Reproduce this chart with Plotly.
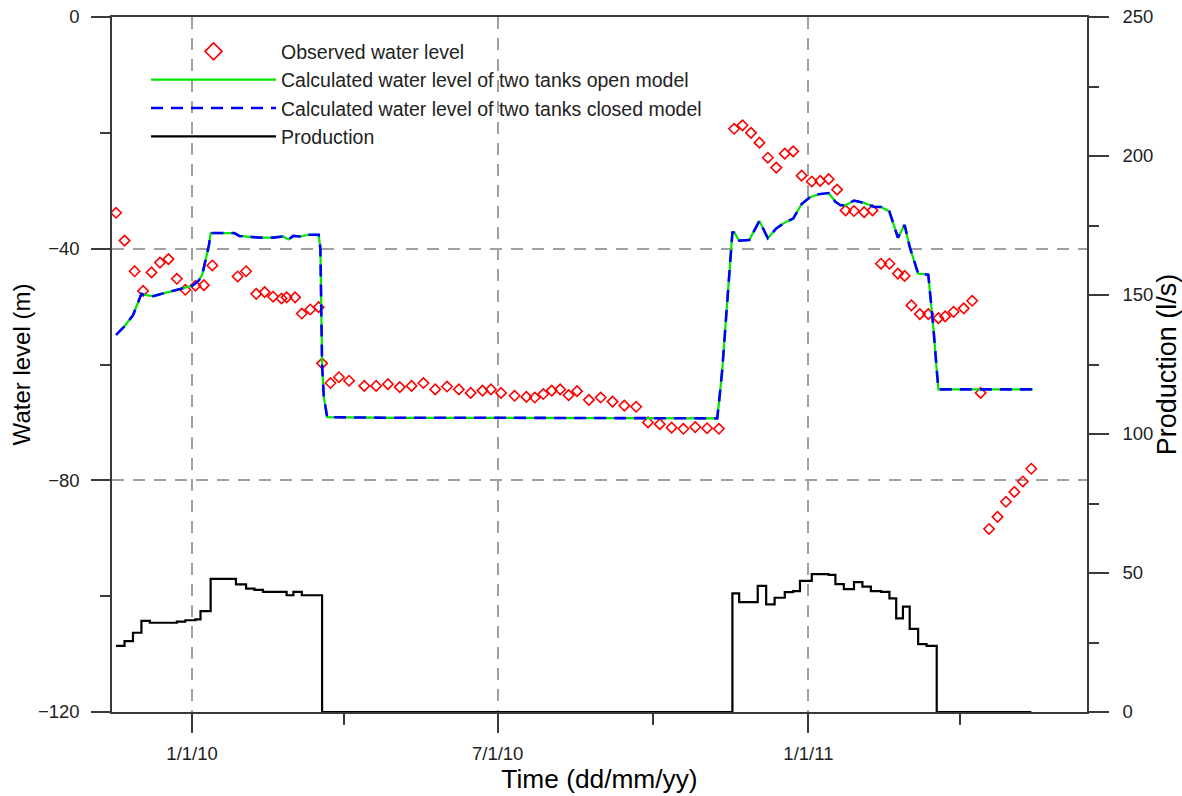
import plotly.graph_objects as go

# ---------------- data ----------------
obs_dates = [
    "2009-11-17", "2009-11-22", "2009-11-28", "2009-12-03", "2009-12-08", "2009-12-13",
    "2009-12-18", "2009-12-23", "2009-12-28", "2010-01-03", "2010-01-08", "2010-01-13",
    "2010-01-28", "2010-02-02", "2010-02-08", "2010-02-13", "2010-02-18", "2010-02-23",
    "2010-02-26", "2010-03-03", "2010-03-07", "2010-03-12", "2010-03-17", "2010-03-19",
    "2010-03-24", "2010-03-29", "2010-04-04", "2010-04-13", "2010-04-20", "2010-04-27",
    "2010-05-04", "2010-05-11", "2010-05-18", "2010-05-25", "2010-06-01", "2010-06-08",
    "2010-06-15", "2010-06-22", "2010-06-27", "2010-07-03", "2010-07-11", "2010-07-18",
    "2010-07-23", "2010-07-28", "2010-08-02", "2010-08-07", "2010-08-12", "2010-08-17",
    "2010-08-24", "2010-08-31", "2010-09-07", "2010-09-14", "2010-09-21", "2010-09-28",
    "2010-10-05", "2010-10-12", "2010-10-19", "2010-10-26", "2010-11-02", "2010-11-09",
    "2010-11-18", "2010-11-23", "2010-11-28", "2010-12-03", "2010-12-08", "2010-12-13",
    "2010-12-18", "2010-12-23", "2010-12-28", "2011-01-03", "2011-01-08", "2011-01-13",
    "2011-01-18", "2011-01-23", "2011-01-28", "2011-02-03", "2011-02-08", "2011-02-13",
    "2011-02-18", "2011-02-23", "2011-02-27", "2011-03-03", "2011-03-08", "2011-03-13",
    "2011-03-19", "2011-03-23", "2011-03-28", "2011-04-03", "2011-04-08", "2011-04-13",
    "2011-04-18", "2011-04-23", "2011-04-28", "2011-05-03", "2011-05-08", "2011-05-13",
]
obs_level = [
    -33.8, -38.6, -43.9, -47.3, -44.1, -42.4,
    -41.8, -45.2, -47.1, -46.4, -46.3, -42.9,
    -44.8, -43.9, -47.8, -47.5, -48.3, -48.6,
    -48.4, -48.4, -51.2, -50.5, -50.1, -59.8,
    -63.2, -62.2, -62.8, -63.7, -63.7, -63.4,
    -63.9, -63.7, -63.2, -64.3, -63.8, -64.3,
    -64.9, -64.5, -64.3, -64.9, -65.4, -65.6,
    -65.7, -65.1, -64.5, -64.3, -65.3, -64.6,
    -66.1, -65.7, -66.4, -67.1, -67.3, -70.0,
    -70.3, -70.9, -71.1, -70.8, -71.0, -71.1,
    -19.3, -18.7, -20.0, -21.7, -24.3, -26.0,
    -23.6, -23.2, -27.4, -28.4, -28.3, -28.0,
    -29.8, -33.4, -33.5, -33.7, -33.4, -42.6,
    -42.6, -44.3, -44.7, -49.8, -51.3, -51.3,
    -52.0, -51.7, -50.9, -50.3, -49.0, -64.9,
    -88.4, -86.3, -83.7, -82.0, -80.2, -78.0,
]

calc_dates = [
    "2009-11-17", "2009-11-22", "2009-11-27", "2009-11-30", "2009-12-02", "2009-12-04",
    "2009-12-09", "2009-12-14", "2009-12-19", "2009-12-24", "2009-12-29", "2010-01-01",
    "2010-01-03", "2010-01-05", "2010-01-07", "2010-01-09", "2010-01-11", "2010-01-12",
    "2010-01-26", "2010-01-29", "2010-02-10", "2010-02-18", "2010-02-24", "2010-02-27",
    "2010-03-02", "2010-03-06", "2010-03-11", "2010-03-17", "2010-03-18", "2010-03-19",
    "2010-03-20", "2010-03-22", "2010-05-01", "2010-07-01", "2010-09-01", "2010-10-15",
    "2010-11-08", "2010-11-09", "2010-11-11", "2010-11-13", "2010-11-15", "2010-11-17",
    "2010-11-18", "2010-11-21", "2010-11-27", "2010-12-03", "2010-12-08", "2010-12-13",
    "2010-12-18", "2010-12-23", "2010-12-28", "2011-01-02", "2011-01-07", "2011-01-13",
    "2011-01-17", "2011-01-20", "2011-01-23", "2011-01-28", "2011-02-03", "2011-02-09",
    "2011-02-13", "2011-02-18", "2011-02-23", "2011-02-27", "2011-03-02", "2011-03-07",
    "2011-03-13", "2011-03-14", "2011-03-16", "2011-03-18", "2011-03-19", "2011-05-14",
]
calc_open_level = [
    -54.9, -53.4, -51.5, -49.4, -47.8, -48.0,
    -48.2, -47.8, -47.4, -47.1, -46.7, -46.4,
    -46.0, -45.5, -44.5, -41.7, -39.4, -37.3,
    -37.3, -37.8, -38.1, -38.1, -37.9, -38.4,
    -37.8, -37.9, -37.6, -37.6, -40.0, -60.0,
    -65.5, -69.1, -69.2, -69.2, -69.3, -69.3,
    -69.3, -66.7, -60.9, -52.9, -44.8, -37.2,
    -37.2, -38.6, -38.5, -35.2, -38.2, -36.5,
    -35.5, -34.8, -32.3, -31.1, -30.6, -30.4,
    -31.9, -32.5, -32.5, -31.7, -32.1, -32.8,
    -32.8, -33.6, -38.1, -35.9, -39.7, -44.3,
    -44.5, -47.1, -53.5, -60.9, -64.3, -64.3,
]
# the closed model is indistinguishable from the open one in the picture
calc_closed_level = [
    -54.9, -53.4, -51.5, -49.4, -47.8, -48.0,
    -48.2, -47.8, -47.4, -47.1, -46.7, -46.4,
    -46.0, -45.5, -44.5, -41.7, -39.4, -37.3,
    -37.3, -37.8, -38.1, -38.1, -37.9, -38.4,
    -37.8, -37.9, -37.6, -37.6, -40.0, -60.0,
    -65.5, -69.1, -69.2, -69.2, -69.3, -69.3,
    -69.3, -66.7, -60.9, -52.9, -44.8, -37.2,
    -37.2, -38.6, -38.5, -35.2, -38.2, -36.5,
    -35.5, -34.8, -32.3, -31.1, -30.6, -30.4,
    -31.9, -32.5, -32.5, -31.7, -32.1, -32.8,
    -32.8, -33.6, -38.1, -35.9, -39.7, -44.3,
    -44.5, -47.1, -53.5, -60.9, -64.3, -64.3,
]

prod_dates = [
    "2009-11-17", "2009-11-22", "2009-11-27", "2009-12-02", "2009-12-07", "2009-12-23",
    "2009-12-28", "2010-01-03", "2010-01-06", "2010-01-12", "2010-01-27", "2010-02-02",
    "2010-02-07", "2010-02-12", "2010-02-26", "2010-03-02", "2010-03-07", "2010-03-19",
    "2010-11-17", "2010-11-21", "2010-12-02", "2010-12-07", "2010-12-12", "2010-12-18",
    "2010-12-23", "2010-12-27", "2011-01-03", "2011-01-13", "2011-01-17", "2011-01-22",
    "2011-01-28", "2011-02-02", "2011-02-07", "2011-02-13", "2011-02-18", "2011-02-22",
    "2011-02-26", "2011-03-02", "2011-03-07", "2011-03-12", "2011-03-18", "2011-05-13",
]
prod_flow = [
    23.8, 25.5, 28.5, 32.8, 32.1, 32.5,
    33.0, 33.3, 36.3, 47.9, 45.9, 44.4,
    43.9, 43.2, 42.0, 43.2, 42.0, 0.0,
    42.7, 39.5, 45.4, 38.7, 41.1, 43.1,
    43.5, 47.2, 49.6, 49.3, 46.0, 44.2,
    46.7, 45.1, 43.5, 43.2, 40.9, 33.7,
    37.9, 29.9, 24.4, 23.8, 0.0, 0.0,
]

x_ticks_text_format = "%-m/%-d/%y"

# ---------------- figure ----------------
FONT = "Arial, 'Liberation Sans', sans-serif"
AX = "#3a3a3a"
GRID = "#a0a0a0"
RED = "#ff0000"

fig = go.Figure()

fig.add_trace(go.Scatter(
    x=obs_dates, y=obs_level, mode="markers", name="Observed water level",
    legendgroup="a", showlegend=False,
    marker=dict(symbol="diamond-open", size=8, color=RED, line=dict(width=1.6, color=RED)),
))
# legend entry for the observations (larger symbol, as in the reference legend)
fig.add_trace(go.Scatter(
    x=[None], y=[None], mode="markers", name="Observed water level",
    legendgroup="a", showlegend=True, hoverinfo="skip",
    marker=dict(symbol="diamond-open", size=13, color=RED, line=dict(width=1.6, color=RED)),
))
fig.add_trace(go.Scatter(
    x=calc_dates, y=calc_open_level, mode="lines",
    name="Calculated water level of two tanks open model", legendgroup="b",
    line=dict(color="#00e600", width=2.2),
))
fig.add_trace(go.Scatter(
    x=calc_dates, y=calc_closed_level, mode="lines",
    name="Calculated water level of two tanks closed model", legendgroup="c",
    line=dict(color="#0000ff", width=2.6, dash="12px,8px"),
))
fig.add_trace(go.Scatter(
    x=prod_dates, y=prod_flow, mode="lines", name="Production", legendgroup="d",
    line=dict(color="#000000", width=2.2, shape="hv"), yaxis="y2",
))

tickfont = dict(family=FONT, size=18.5, color="#222222")

fig.update_layout(
    width=1182, height=796,
    margin=dict(l=112, r=95, t=17, b=84, autoexpand=False),
    paper_bgcolor="white", plot_bgcolor="white",
    font=dict(family=FONT, size=18, color="#222222"),
    showlegend=True,
    legend=dict(
        x=0.0349, y=0.9782, xanchor="left", yanchor="top",
        bgcolor="rgba(0,0,0,0)", borderwidth=0,
        font=dict(family=FONT, size=19.5, color="#222222"),
        traceorder="grouped", tracegroupgap=0, itemwidth=125,
    ),
    xaxis=dict(
        type="date", range=["2009-11-14 14:00", "2011-06-15"],
        tick0="2010-01-01", dtick="M6", tickformat=x_ticks_text_format,
        ticks="outside", ticklen=19, tickwidth=1.5, tickcolor=AX,
        minor=dict(dtick="M3", tick0="2010-01-01", ticks="outside", ticklen=11,
                   tickwidth=1.5, tickcolor=AX, showgrid=False),
        showgrid=True, gridcolor=GRID, gridwidth=1.5, griddash="12px,9px",
        showline=True, linecolor=AX, linewidth=1.5, mirror=True,
        zeroline=False, tickfont=tickfont, ticklabelstandoff=5, automargin=False,
        title=dict(text="Time (dd/mm/yy)", font=dict(family=FONT, size=26.3, color="#000000"),
                   standoff=2),
    ),
    yaxis=dict(
        range=[-120, 0], tick0=0, dtick=40,
        ticks="outside", ticklen=19, tickwidth=1.5, tickcolor=AX,
        minor=dict(dtick=20, tick0=0, ticks="outside", ticklen=10, tickwidth=1.5,
                   tickcolor=AX, showgrid=False),
        showgrid=True, gridcolor=GRID, gridwidth=1.5, griddash="12px,9px",
        showline=True, linecolor=AX, linewidth=1.5, zeroline=False,
        tickfont=tickfont, ticklabelstandoff=8, automargin=False,
        title=dict(text="Water level (m)", font=dict(family=FONT, size=24, color="#000000"),
                   standoff=0),
    ),
    yaxis2=dict(
        overlaying="y", side="right", range=[0, 250], tick0=0, dtick=50,
        ticks="outside", ticklen=20, tickwidth=1.5, tickcolor=AX,
        minor=dict(dtick=25, tick0=0, ticks="outside", ticklen=10, tickwidth=1.5,
                   tickcolor=AX, showgrid=False),
        showgrid=False, showline=True, linecolor=AX, linewidth=1.5, zeroline=False,
        tickfont=tickfont, ticklabelstandoff=10, automargin=False,
        title=dict(text="Production (l/s)", font=dict(family=FONT, size=27, color="#000000"),
                   standoff=5),
    ),
)

fig.write_html("out.html")
